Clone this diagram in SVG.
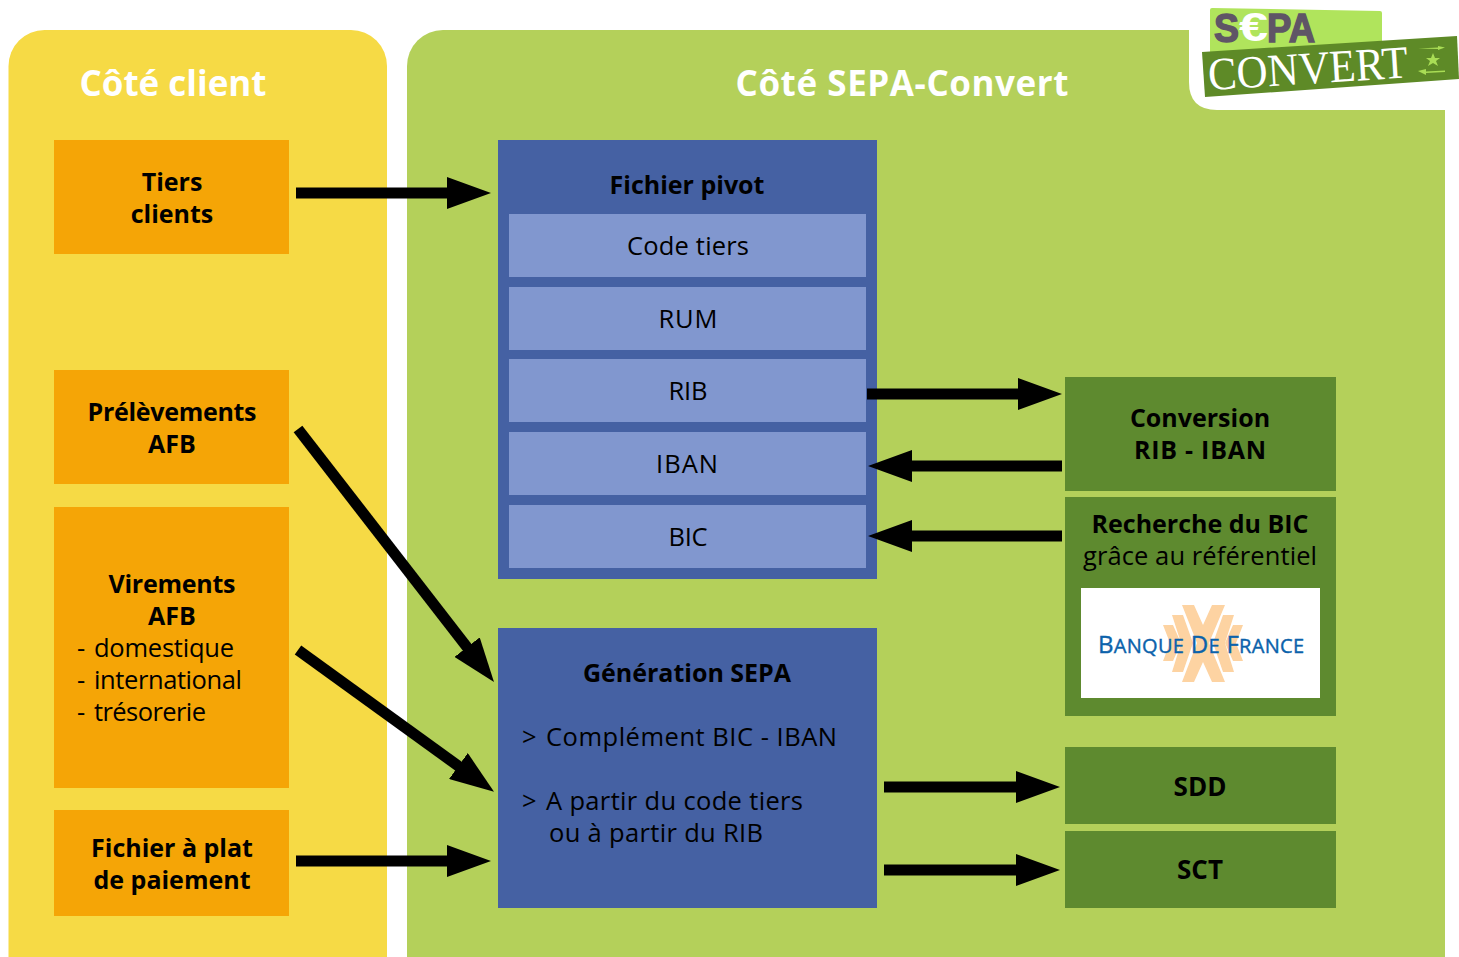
<svg xmlns="http://www.w3.org/2000/svg" width="1459" height="957" viewBox="0 0 1459 957">
<style>
text{font-family:"Open Sans","Noto Sans","DejaVu Sans",sans-serif;font-size:25.500px;fill:#000;text-anchor:middle}
.b{font-weight:700;font-size:25px}
.l{text-anchor:start}
.h{font-size:35px;font-weight:700;fill:#fff}
.s{font-family:"Liberation Sans",sans-serif;font-size:40px;font-weight:700;fill:#5f5566;stroke:#5f5566;stroke-width:1.500;text-anchor:start}
.or{fill:#f5a506}.bl{fill:#4561a3}.lb{fill:#8197cf}.dg{fill:#5e8a2f}
.c line{stroke:#000;stroke-width:11;marker-end:url(#a)}
</style>
<defs>
<marker id="a" markerUnits="userSpaceOnUse" markerWidth="44" markerHeight="32" refX="20" refY="16" orient="auto"><path d="M0 0L44 16L0 32z" fill="#000"/></marker>
</defs>
<rect width="1459" height="957" fill="#fff"/>
<g id="band-client"><rect x="8.500" y="30" width="378.500" height="967" rx="36" fill="#f6da45"/><text class="h" x="173" y="96" textLength="187">Côté client</text></g>
<g id="band-sepa"><rect x="407" y="30" width="1038" height="967" rx="36" fill="#b4d05a"/><path d="M1189 0H1459V110H1217Q1189 110 1189 82z" fill="#fff"/><text class="h" x="902" y="96" textLength="333">Côté SEPA-Convert</text></g>
<g id="logo">
<path d="M1212 8L1380 11Q1382 11 1382 13V60H1210V10Q1210 8 1212 8z" fill="#b0e45c"/>
<text x="1214" y="42" class="s" textLength="25" lengthAdjust="spacingAndGlyphs">S</text>
<text x="1239" y="41" class="s" style="fill:#fff;stroke:none" textLength="29" lengthAdjust="spacingAndGlyphs">€</text>
<text x="1267" y="42" class="s" textLength="48" lengthAdjust="spacingAndGlyphs">PA</text>
<path d="M1202 52L1457 36L1459 79L1205 97z" fill="#5e8a27"/>
<text transform="translate(1209 90) rotate(-3.600)" class="l" style="font-family:'Liberation Serif',serif;font-size:46px;fill:#fff" textLength="200" lengthAdjust="spacingAndGlyphs">CONVERT</text>
<g fill="#a9dd55"><path d="M1418 48.500L1438 47.500V46L1445 47.500L1438 50V49z"/><path d="M1418 71L1426 69V71.500L1445 70.500V72L1426 73V75z"/><path d="M1433 53L1435 58L1440 58L1436 61L1438 66L1433 63L1428 66L1430 61L1426 58L1431 58z"/></g>
</g>
<g id="tiers"><rect class="or" x="54" y="140" width="235" height="114"/><text class="b" x="172" y="191">Tiers</text><text class="b" x="172" y="223">clients</text></g>
<g id="prelevements"><rect class="or" x="54" y="370" width="235" height="114"/><text class="b" x="172" y="421" textLength="169">Prélèvements</text><text class="b" x="172" y="453">AFB</text></g>
<g id="virements"><rect class="or" x="54" y="507" width="235" height="281"/><text class="b" x="172" y="593" textLength="127">Virements</text><text class="b" x="172" y="625">AFB</text><text class="l" x="77" y="657">-</text><text class="l" x="94" y="657" textLength="140">domestique</text><text class="l" x="77" y="689">-</text><text class="l" x="94" y="689" textLength="148">international</text><text class="l" x="77" y="721">-</text><text class="l" x="94" y="721" textLength="112">trésorerie</text></g>
<g id="fichier-plat"><rect class="or" x="54" y="810" width="235" height="106"/><text class="b" x="172" y="857">Fichier à plat</text><text class="b" x="172" y="889">de paiement</text></g>
<g id="fichier-pivot"><rect class="bl" x="498" y="140" width="379" height="439"/><text class="b" x="687" y="194">Fichier pivot</text></g>
<g id="code-tiers"><rect class="lb" x="509" y="214" width="357" height="63"/><text x="688" y="255" textLength="122">Code tiers</text></g>
<g id="rum"><rect class="lb" x="509" y="287" width="357" height="63"/><text x="688" y="328" textLength="59">RUM</text></g>
<g id="rib"><rect class="lb" x="509" y="359" width="357" height="63"/><text x="688" y="400" textLength="39">RIB</text></g>
<g id="iban"><rect class="lb" x="509" y="432" width="357" height="63"/><text x="687" y="473" textLength="62">IBAN</text></g>
<g id="bic"><rect class="lb" x="509" y="505" width="357" height="63"/><text x="688" y="546" textLength="39">BIC</text></g>
<g id="generation"><rect class="bl" x="498" y="628" width="379" height="280"/><text class="b" x="687" y="682">Génération SEPA</text><text class="l" x="522" y="746">&gt;</text><text class="l" x="546" y="746" textLength="291">Complément BIC - IBAN</text><text class="l" x="522" y="810">&gt;</text><text class="l" x="546" y="810" textLength="257">A partir du code tiers</text><text class="l" x="549" y="842" textLength="214">ou à partir du RIB</text></g>
<g id="conversion"><rect class="dg" x="1065" y="377" width="271" height="114"/><text class="b" x="1200" y="427">Conversion</text><text class="b" x="1200" y="459" textLength="132">RIB - IBAN</text></g>
<g id="recherche"><rect class="dg" x="1065" y="497" width="271" height="219"/><text class="b" x="1200" y="533" textLength="217">Recherche du BIC</text><text x="1200" y="565" textLength="234">grâce au référentiel</text>
<rect x="1081" y="588" width="239" height="110" fill="#fff"/>
<g fill="#fdd3a2"><path d="M1182 605H1194L1203 625L1212 605H1225L1209 643L1225 682H1212L1203 662L1194 682H1182L1197 643z"/><path d="M1172 615H1183L1193 643L1183 672H1172L1181 643z"/><path d="M1163 625H1173L1181 643L1173 661H1163L1170 643z"/><path d="M1234 615H1223L1213 643L1223 672H1234L1225 643z"/><path d="M1243 625H1233L1225 643L1233 661H1243L1236 643z"/></g>
<text x="1098" y="653" class="l" style="font-size:24px;fill:#0b62ab;stroke:#0b62ab;stroke-width:.4" textLength="206">B<tspan font-size="20">ANQUE</tspan> D<tspan font-size="20">E</tspan> F<tspan font-size="20">RANCE</tspan></text></g>
<g id="sdd"><rect class="dg" x="1065" y="747" width="271" height="77"/><text class="b" x="1200" y="796" style="font-size:26px">SDD</text></g>
<g id="sct"><rect class="dg" x="1065" y="831" width="271" height="77"/><text class="b" x="1200" y="879" style="font-size:26px">SCT</text></g>
<g id="connectors" class="c">
<line x1="296" y1="193" x2="467" y2="193"/>
<line x1="298" y1="429" x2="479.300" y2="663"/>
<line x1="298" y1="650" x2="474.600" y2="777.800"/>
<line x1="296" y1="861" x2="467" y2="861"/>
<line x1="867" y1="394" x2="1038" y2="394"/>
<line x1="1062" y1="466" x2="892" y2="466"/>
<line x1="1062" y1="536" x2="892" y2="536"/>
<line x1="884" y1="787" x2="1036" y2="787"/>
<line x1="884" y1="870" x2="1036" y2="870"/>
</g>
</svg>
